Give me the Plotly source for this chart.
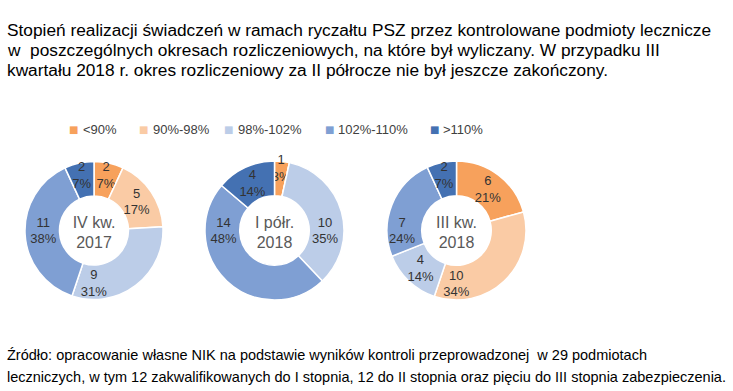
import plotly.graph_objects as go

categories = ["<90%", "90%-98%", "98%-102%", "102%-110%", ">110%"]
colors = ["#F7A15C", "#FACBA5", "#BCCDE8", "#7F9FD3", "#4471B2"]

periods = ["IV kw.<br>2017", "I półr.<br>2018", "III kw.<br>2018"]
values_iv2017 = [2, 5, 9, 11, 2]
values_i2018 = [1, 0, 10, 14, 4]
values_iii2018 = [6, 10, 4, 7, 2]
pct_iv2017 = ["7%", "17%", "31%", "38%", "7%"]
pct_i2018 = ["3%", "0%", "35%", "48%", "14%"]
pct_iii2018 = ["21%", "34%", "14%", "24%", "7%"]

title_lines = [
    "Stopień realizacji świadczeń w ramach ryczałtu PSZ przez kontrolowane podmioty lecznicze",
    "w  poszczególnych okresach rozliczeniowych, na które był wyliczany. W przypadku III",
    "kwartału 2018 r. okres rozliczeniowy za II półrocze nie był jeszcze zakończony.",
]
footer_lines = [
    "Źródło: opracowanie własne NIK na podstawie wyników kontroli przeprowadzonej  w 29 podmiotach",
    "leczniczych, w tym 12 zakwalifikowanych do I stopnia, 12 do II stopnia oraz pięciu do III stopnia zabezpieczenia.",
]

W, H = 733, 391
FONT = "Liberation Sans, Arial"
TXT = "#333333"

domains = [(25, 163), (205, 344), (387, 526)]
ytop, ybot = 161, 300
series = [values_iv2017, values_i2018, values_iii2018]
pcts = [pct_iv2017, pct_i2018, pct_iii2018]

fig = go.Figure()
for i, (vals, pc, per, (x0, x1)) in enumerate(zip(series, pcts, periods, domains)):
    fig.add_trace(go.Pie(
        labels=categories, values=vals, text=pc,
        texttemplate=["%{value}<br>%{text}" if v > 0 else "" for v in vals],
        textposition="inside", insidetextorientation="horizontal",
        textfont=dict(family=FONT, size=13, color=TXT),
        hole=0.5, sort=False, direction="clockwise", rotation=0,
        marker=dict(colors=colors, line=dict(color="white", width=1.5)),
        domain=dict(x=[x0 / W, x1 / W], y=[1 - ybot / H, 1 - ytop / H]),
        title=dict(text=per, position="middle center",
                   font=dict(family=FONT, size=16, color="#595959")),
        showlegend=False, hoverinfo="label+value+percent",
    ))

annotations = []
for k, line in enumerate(title_lines):
    annotations.append(dict(text=line, x=5 / W, y=1 - (30 + 20 * k) / H, xref="paper", yref="paper",
                            xanchor="left", yanchor="middle", showarrow=False,
                            font=dict(family=FONT, size=17.3, color="#000000")))
for k, line in enumerate(footer_lines):
    annotations.append(dict(text=line, x=5 / W, y=1 - (355 + 22 * k) / H, xref="paper", yref="paper",
                            xanchor="left", yanchor="middle", showarrow=False,
                            font=dict(family=FONT, size=14.5, color="#000000")))

# legend row (keys drawn as text glyphs)
legend_sq_x = [73.5, 143.5, 228.5, 329, 434]
legend_y = 130
for cat, col, sx in zip(categories, colors, legend_sq_x):
    annotations.append(dict(text="■", x=sx / W, y=1 - legend_y / H, xref="paper", yref="paper",
                            xanchor="center", yanchor="middle", showarrow=False,
                            font=dict(family="DejaVu Sans", size=10, color=col)))
    annotations.append(dict(text=cat, x=(sx + 7) / W, y=1 - legend_y / H, xref="paper", yref="paper",
                            xanchor="left", yanchor="middle", showarrow=False,
                            font=dict(family=FONT, size=13, color="#404040")))

fig.update_layout(
    width=W, height=H, margin=dict(l=0, r=0, t=0, b=0),
    paper_bgcolor="white", plot_bgcolor="white",
    uniformtext=dict(minsize=13, mode="show"),
    showlegend=False,
    annotations=annotations,
)

fig.write_html("out.html", config={"displayModeBar": False},
               post_script="document.body.style.margin='0';")
